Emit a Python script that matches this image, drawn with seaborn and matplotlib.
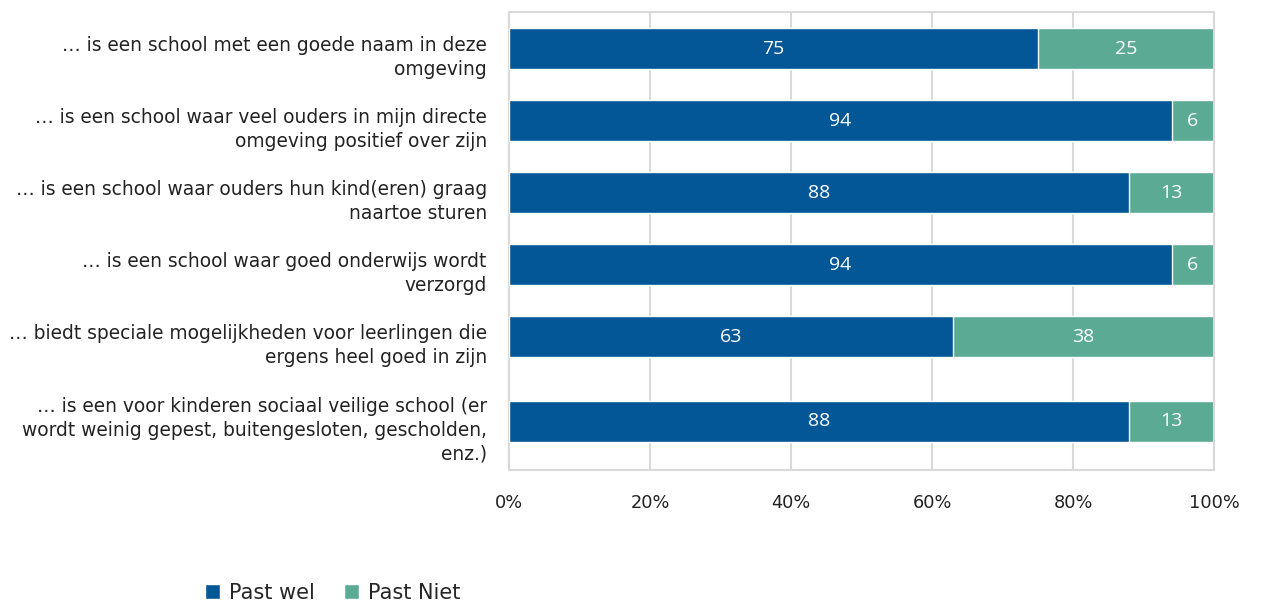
import matplotlib
matplotlib.use("Agg")
import matplotlib.pyplot as plt
from matplotlib.transforms import ScaledTranslation
from matplotlib.patches import Patch
import seaborn as sns
import pandas as pd

# Survey statements and percentage shares
statements = [
    "… is een school met een goede naam in deze\nomgeving",
    "… is een school waar veel ouders in mijn directe\nomgeving positief over zijn",
    "… is een school waar ouders hun kind(eren) graag\nnaartoe sturen",
    "… is een school waar goed onderwijs wordt\nverzorgd",
    "… biedt speciale mogelijkheden voor leerlingen die\nergens heel goed in zijn",
    "… is een voor kinderen sociaal veilige school (er\nwordt weinig gepest, buitengesloten, gescholden,\nenz.)",
]
past_wel = [75, 94, 88, 94, 63, 88]
past_niet = [25, 6, 13, 6, 38, 13]
series_names = ["Past wel", "Past Niet"]
x_ticks = [0, 20, 40, 60, 80, 100]

# Row positions (the last, three-line statement gets a little extra room)
row_pos = [0, 1, 2, 3, 4, 5.18]

BLUE = "#035797"
GREEN = "#5BAB94"
GRID = "#D9D9D9"

df = pd.DataFrame({"statement": statements, "pos": row_pos,
                   "wel": past_wel, "niet": past_niet})
df["cum"] = df["wel"] + df["niet"]

sns.set_theme(style="white")
plt.rcParams["font.family"] = ["DejaVu Sans"]

fig = plt.figure(figsize=(12.63, 6.04), dpi=100)
ax = fig.add_axes([509 / 1263, 134 / 604, (1214 - 509) / 1263, (470 - 12) / 604])

# Stacked bars: cumulative "Past Niet" bar underneath, "Past wel" on top
sns.barplot(data=df, x="cum", y="pos", orient="h", native_scale=True,
            color=GREEN, saturation=1, width=0.57, ax=ax, errorbar=None, zorder=2)
sns.barplot(data=df, x="wel", y="pos", orient="h", native_scale=True,
            color=BLUE, saturation=1, width=0.57, ax=ax, errorbar=None, zorder=3)

# Value labels centred in each visible segment
for p, w, n in zip(row_pos, past_wel, past_niet):
    ax.text(w / 2, p, f"{w}", ha="center", va="center", color="white",
            fontsize=14, family="Open Sans", zorder=4)
    ax.text((w + min(w + n, 100)) / 2, p, f"{n}", ha="center", va="center",
            color="white", fontsize=14, family="Open Sans", zorder=4)

ax.set_xlim(0, 100)
ax.set_ylim(5.854, -0.507)
ax.set_xticks(x_ticks)
ax.set_xticklabels([f"{t}%" for t in x_ticks], fontsize=12.8, color="#222222")
ax.set_yticks(row_pos)
ax.set_yticklabels(statements, fontsize=13.4, color="#222222",
                   linespacing=1.3, ha="right", multialignment="right")
ax.set_xlabel("")
ax.set_ylabel("")

ax.tick_params(axis="y", length=0, pad=16)
ax.tick_params(axis="x", length=8, width=1.5, color=GRID, pad=9, direction="out")
shift = ScaledTranslation(0, -0.045, fig.dpi_scale_trans)
for lbl in ax.get_yticklabels():
    lbl.set_transform(lbl.get_transform() + shift)

ax.grid(axis="x", color=GRID, linewidth=1.5, zorder=0)
ax.set_axisbelow(True)
for side, sp in ax.spines.items():
    sp.set_visible(True)
    sp.set_color(GRID)
    sp.set_linewidth(1.5)

handles = [Patch(facecolor=BLUE, label=series_names[0]),
           Patch(facecolor=GREEN, label=series_names[1])]
fig.legend(handles=handles, loc="center", bbox_to_anchor=(333 / 1263, 1 - 593 / 604),
           ncol=2, frameon=False, fontsize=15, handlelength=0.7, handleheight=0.7,
           handletextpad=0.45, columnspacing=1.4)

fig.savefig("out.png", dpi=100)
